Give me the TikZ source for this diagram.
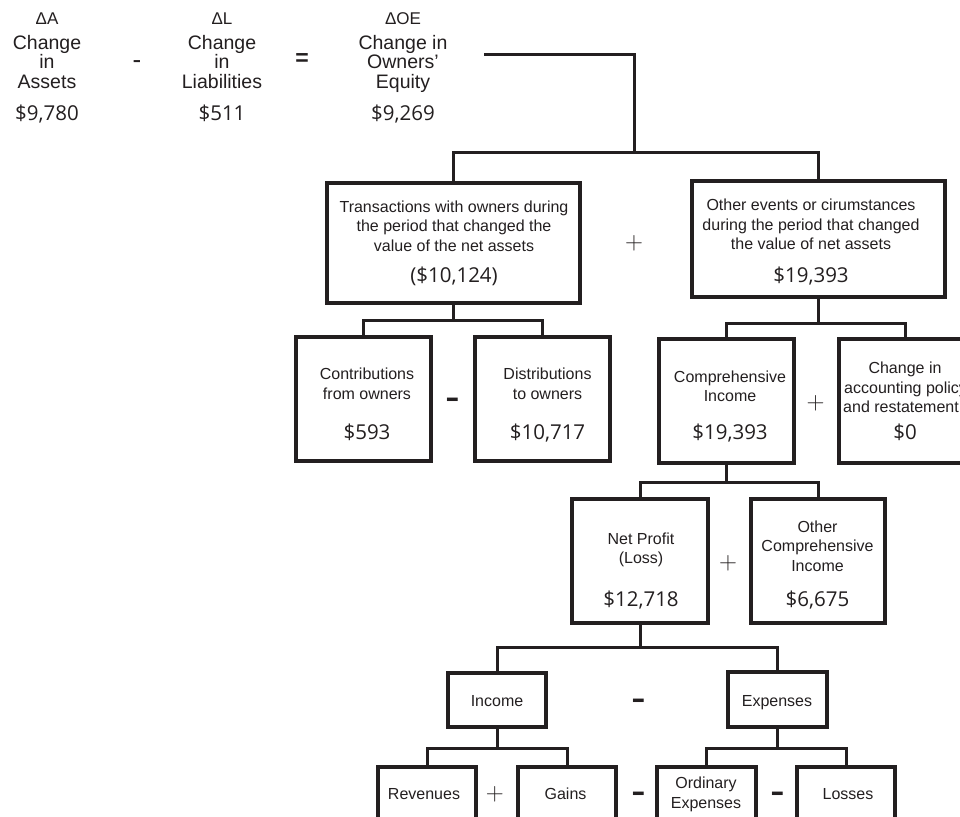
\documentclass[tikz,border=0pt]{standalone}
\usepackage{fontspec}
\setmainfont{Liberation Sans}
\newfontfamily\amtfont{Open Sans}
\definecolor{ink}{RGB}{35,31,32}
\tikzset{
  box/.style={draw=ink, line width=3.1pt, rectangle, inner sep=0pt},
  conn/.style={draw=ink, line width=3pt},
  lab/.style={anchor=base, inner sep=0pt, text=ink, font=\fontsize{16}{19.5}\selectfont},
  amt/.style={anchor=base, inner sep=0pt, text=ink, font=\amtfont\fontsize{20.5}{24}\selectfont},
  hdr/.style={anchor=base, inner sep=0pt, text=ink, font=\fontsize{19.5}{23}\selectfont},
  dlt/.style={anchor=base, inner sep=0pt, text=ink, font=\fontsize{17}{20}\selectfont},
  plusop/.style={inner sep=0pt, text=ink, font=\fontsize{23.4}{26}\selectfont},
  minusop/.style={anchor=base, inner sep=0pt, text=ink, font=\fontsize{44}{44}\selectfont},
}
\begin{document}
\begin{tikzpicture}[x=1pt,y=-1pt]
\useasboundingbox (0,0) rectangle (960,816);
\clip (0,0) rectangle (960,816);
\fill[white] (0,0) rectangle (960,816);

% ---------- top equation ----------
\node[dlt] (dA) at (47,25) {ΔA};
\node[hdr] (a1) at (47,50) {Change};
\node[hdr] (a2) at (47,68.5) {in};
\node[hdr] (a3) at (47,88) {Assets};
\node[amt] (a4) at (47,120.5) {\$9,780};

\node[anchor=base, inner sep=0pt, text=ink, font=\fontsize{26}{26}\selectfont] (opm) at (137,68) {-};

\node[dlt] (dL) at (222,25) {ΔL};
\node[hdr] (l1) at (222,50) {Change};
\node[hdr] (l2) at (222,68.5) {in};
\node[hdr] (l3) at (222,88) {Liabilities};
\node[amt] (l4) at (222,120.5) {\$511};

\node[anchor=base, inner sep=0pt, text=ink, font=\bfseries\fontsize{23}{23}\selectfont] (opeq) at (302,66) {=};

\node[dlt] (dOE) at (403,25) {ΔOE};
\node[hdr] (o1) at (403,50) {Change in};
\node[hdr] (o2) at (403,68.5) {Owners'};
\node[hdr] (o3) at (403,88) {Equity};
\node[amt] (o4) at (403,120.5) {\$9,269};

% ---------- boxes ----------
\node[box, minimum width=253pt, minimum height=120pt] (trans) at (453.5,243) {};
\node[box, minimum width=253pt, minimum height=116pt] (other) at (818.5,239) {};
\node[box, minimum width=135pt, minimum height=124pt] (contrib) at (363.5,399) {};
\node[box, minimum width=135pt, minimum height=124pt] (distrib) at (542.5,399) {};
\node[box, minimum width=135pt, minimum height=124pt] (comp) at (726.5,401) {};
\node[box, minimum width=132pt, minimum height=124pt] (change) at (905,401) {};
\node[box, minimum width=136pt, minimum height=124pt] (netp) at (640,561) {};
\node[box, minimum width=134pt, minimum height=124pt] (oci) at (818,561) {};
\node[box, minimum width=98pt, minimum height=54pt] (income) at (497,700) {};
\node[box, minimum width=99pt, minimum height=55pt] (expenses) at (777.5,699.5) {};
\node[box, minimum width=98pt, minimum height=57pt] (rev) at (427,795.5) {};
\node[box, minimum width=98pt, minimum height=57pt] (gains) at (567,795.5) {};
\node[box, minimum width=99pt, minimum height=57pt] (ord) at (706.5,795.5) {};
\node[box, minimum width=98pt, minimum height=57pt] (losses) at (846,795.5) {};

% ---------- box texts ----------
\node[lab] (t1) at (454,212) {Transactions with owners during};
\node[lab] (t2) at (454,231.5) {the period that changed the};
\node[lab] (t3) at (454,251) {value of the net assets};
\node[amt] (t4) at (454,282) {(\$10,124)};

\node[lab] (e1) at (811,210.5) {Other events or cirumstances};
\node[lab] (e2) at (811,230) {during the period that changed};
\node[lab] (e3) at (811,249.5) {the value of net assets};
\node[amt] (e4) at (811,282) {\$19,393};

\node[lab] (c1) at (367,379) {Contributions};
\node[lab] (c2) at (367,399) {from owners};
\node[amt] (c3) at (367,439) {\$593};

\node[lab] (d1) at (547.5,379) {Distributions};
\node[lab] (d2) at (547.5,399) {to owners};
\node[amt] (d3) at (547.5,439) {\$10,717};

\node[lab] (ci1) at (730,382.5) {Comprehensive};
\node[lab] (ci2) at (730,401.5) {Income};
\node[amt] (ci3) at (730,439) {\$19,393};

\node[lab] (ch1) at (905,373.3) {Change in};
\node[lab, anchor=base west] (ch2) at (844,393) {accounting policy};
\node[lab, anchor=base west] (ch3) at (843,412.7) {and restatement};
\node[amt] (ch4) at (905,439) {\$0};

\node[lab] (n1) at (641,544.3) {Net Profit};
\node[lab] (n2) at (641,563.5) {(Loss)};
\node[amt] (n3) at (641,606.5) {\$12,718};

\node[lab] (oc1) at (817.5,532.3) {Other};
\node[lab] (oc2) at (817.5,551.7) {Comprehensive};
\node[lab] (oc3) at (817.5,571) {Income};
\node[amt] (oc4) at (817.5,606.5) {\$6,675};

\node[lab] (in1) at (497,706) {Income};
\node[lab] (ex1) at (777,706) {Expenses};
\node[lab] (r1) at (424,799) {Revenues};
\node[lab] (g1) at (565.5,799) {Gains};
\node[lab] (od1) at (706,788.3) {Ordinary};
\node[lab] (od2) at (706,808.3) {Expenses};
\node[lab] (ls1) at (848,799.3) {Losses};

% ---------- operators ----------
\node[plusop] (p1) at (634,243) {$+$};
\node[minusop] (m1) at (453,411.8) {-};
\node[plusop] (p2) at (815.5,403) {$+$};
\node[plusop] (p3) at (728,563) {$+$};
\node[minusop] (m2) at (638.5,712.8) {-};
\node[plusop] (p4) at (494.7,794) {$+$};
\node[minusop] (m3) at (638.5,805.8) {-};
\node[minusop] (m4) at (778,805.8) {-};

% ---------- connectors ----------
\coordinate (oeEnd) at (484,55);
\coordinate (j0) at (634,152);
\draw[conn] (oeEnd) -| (j0);
\draw[conn] (trans.north) |- (j0) -| (other.north);

\coordinate (j1) at (trans.south |- 0,320);
\draw[conn] (trans.south) -- (j1);
\draw[conn] (contrib.north) |- (j1) -| (distrib.north);

\coordinate (j2) at (other.south |- 0,323);
\draw[conn] (other.south) -- (j2);
\draw[conn] (comp.north) |- (j2) -| (change.north);

\coordinate (j3) at (comp.south |- 0,482);
\draw[conn] (comp.south) -- (j3);
\draw[conn] (netp.north) |- (j3) -| (oci.north);

\coordinate (j4) at (netp.south |- 0,647);
\draw[conn] (netp.south) -- (j4);
\draw[conn] (income.north) |- (j4) -| (expenses.north);

\coordinate (j5) at (income.south |- 0,748);
\draw[conn] (income.south) -- (j5);
\draw[conn] (rev.north) |- (j5) -| (gains.north);

\coordinate (j6) at (expenses.south |- 0,748);
\draw[conn] (expenses.south) -- (j6);
\draw[conn] (ord.north) |- (j6) -| (losses.north);
\end{tikzpicture}
\end{document}
